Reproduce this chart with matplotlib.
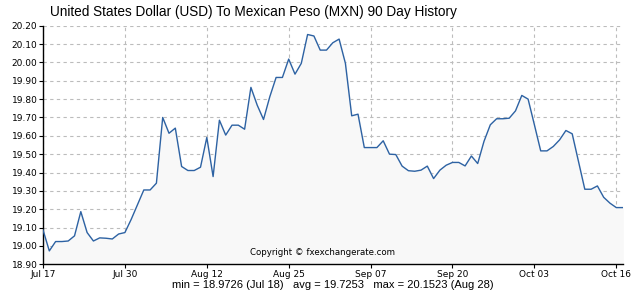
import matplotlib
matplotlib.use("Agg")
import matplotlib.pyplot as plt
import numpy as np

# daily USD/MXN rate, Jul 17 .. Oct 17
rates = [
    19.087, 18.973, 19.024, 19.024, 19.027, 19.055, 19.187, 19.073, 19.027, 19.044,
    19.042, 19.038, 19.065, 19.073, 19.145, 19.225, 19.305, 19.305, 19.342, 19.700,
    19.614, 19.642, 19.433, 19.411, 19.411, 19.429, 19.591, 19.378, 19.685, 19.604,
    19.658, 19.658, 19.636, 19.864, 19.767, 19.689, 19.813, 19.918, 19.918, 20.018,
    19.936, 19.995, 20.152, 20.144, 20.067, 20.067, 20.107, 20.127, 19.995, 19.709,
    19.718, 19.536, 19.536, 19.536, 19.573, 19.500, 19.498, 19.435, 19.410, 19.407,
    19.413, 19.435, 19.367, 19.413, 19.440, 19.455, 19.455, 19.436, 19.490, 19.449,
    19.570, 19.660, 19.693, 19.693, 19.696, 19.736, 19.820, 19.800, 19.660, 19.518,
    19.518, 19.542, 19.578, 19.629, 19.611, 19.460, 19.309, 19.309, 19.327, 19.265,
    19.233, 19.209, 19.209,
]
tick_days = [0, 13, 26, 39, 52, 65, 78, 91]
tick_labels = ["Jul 17", "Jul 30", "Aug 12", "Aug 25", "Sep 07", "Sep 20", "Oct 03", "Oct 16"]
y_ticks = [18.90, 19.00, 19.10, 19.20, 19.30, 19.40, 19.50, 19.60, 19.70,
           19.80, 19.90, 20.00, 20.10, 20.20]

days = np.arange(len(rates))

fig = plt.figure(figsize=(6.4, 2.94), dpi=100)
ax = fig.add_axes([0.0672, 0.101, 0.9056, 0.8116])

ax.fill_between(days, rates, 18.90, color="#f8f8f8", zorder=1)
ax.plot(days, rates, color="#2d62a3", linewidth=1.0, zorder=3)

ax.set_xlim(0, len(rates) - 1)
ax.set_ylim(18.90, 20.20)
ax.set_xticks(tick_days)
ax.set_xticklabels(tick_labels)
ax.set_yticks(y_ticks)
ax.set_yticklabels(["%.2f" % v for v in y_ticks])

ax.grid(True, color="#bcbcbc", linestyle=(0, (3, 3)), linewidth=0.8, zorder=0)
ax.set_axisbelow(True)
for s in ["top", "right"]:
    ax.spines[s].set_visible(False)
for s in ["left", "bottom"]:
    ax.spines[s].set_color("black")
    ax.spines[s].set_linewidth(1.0)
ax.tick_params(axis="both", direction="out", length=3, width=0.8, labelsize=6.5, pad=1)

fig.text(0.078, 0.945, "United States Dollar (USD) To Mexican Peso (MXN) 90 Day History",
         family="Liberation Sans", fontsize=9.8, ha="left", va="baseline")
ax.text(0.5, -0.065, "min = 18.9726 (Jul 18)   avg = 19.7253   max = 20.1523 (Aug 28)",
        transform=ax.transAxes, family="Liberation Sans", fontsize=8, ha="center", va="top")
ax.text(0.483, 0.03, "Copyright \u00a9 fxexchangerate.com", transform=ax.transAxes,
        family="DejaVu Sans", fontsize=6.2, ha="center", va="bottom", zorder=4)

fig.savefig("out.png", dpi=100)
